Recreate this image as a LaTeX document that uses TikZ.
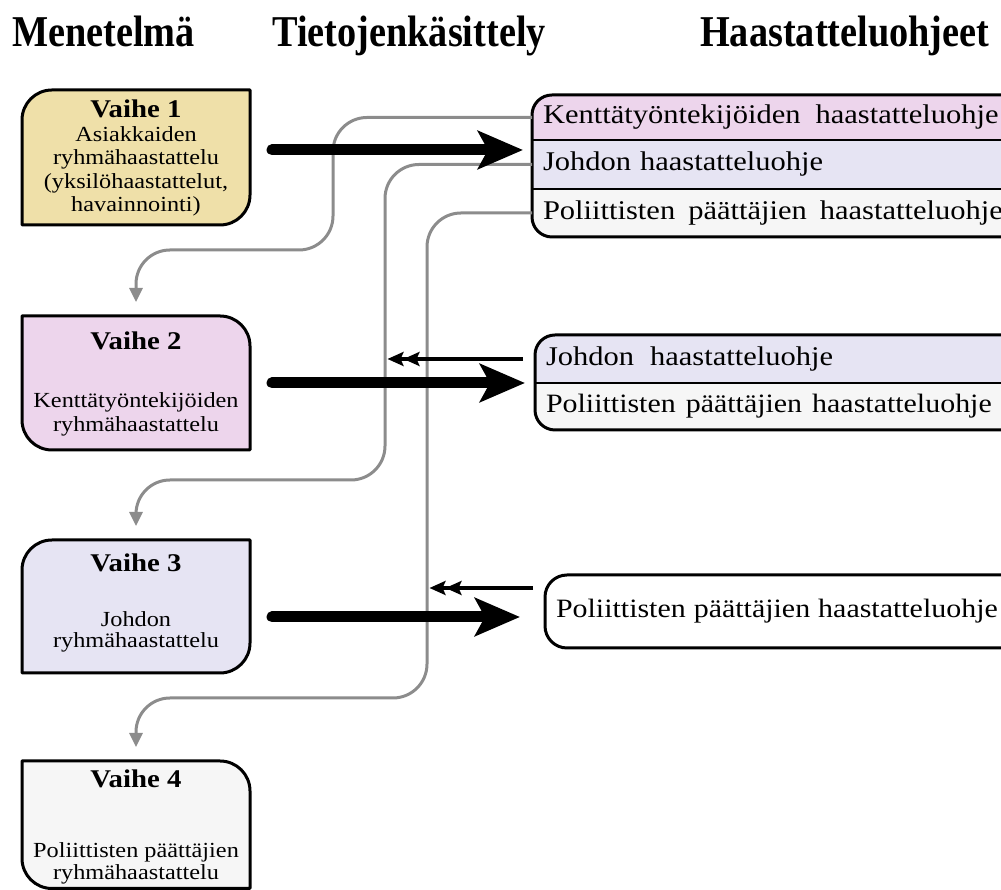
\documentclass[tikz,border=0pt]{standalone}
\usepackage{fontspec}
\setmainfont{Liberation Serif}[FakeStretch=1.13]
\newfontfamily\hdfont{Liberation Serif}[FakeStretch=0.87]
\usetikzlibrary{arrows.meta,calc}
\definecolor{cA}{HTML}{EFE0A9}
\definecolor{cB}{HTML}{EDD5EC}
\definecolor{cC}{HTML}{E6E4F3}
\definecolor{cD}{HTML}{F6F6F6}
\definecolor{gline}{HTML}{8C8C8C}
\newcommand\phtitle{\fontsize{25.5}{23.5}\selectfont\bfseries}
\begin{document}
\begin{tikzpicture}[x=1pt,y=1pt,
 heading/.style={font=\hdfont\bfseries\fontsize{44}{48}\selectfont, anchor=base west, inner sep=0},
 phase/.style={minimum width=228pt, minimum height=#1, inner sep=0, outer sep=0},
 ptext/.style={anchor=north, align=center, inner sep=0, font=\fontsize{21.5}{23.5}\selectfont},
 pbox/.style={line width=3pt, line join=round},
 rowbox/.style={anchor=north west, minimum width=508pt, minimum height=#1, text width=486pt, inner xsep=11pt, inner ysep=0pt, align=left, outer sep=0pt, font=\fontsize{27}{28}\selectfont},
 divider/.style={line width=2pt},
 gconn/.style={draw=gline, line width=3pt, rounded corners=34pt, -{Triangle[length=14pt,width=13pt]}, shorten >=14pt},
 bigarrow/.style={line width=11pt, line cap=round, -{Stealth[length=45pt,width=38pt,inset=10pt]}},
 backarrow/.style={line width=3.5pt, -{Stealth[length=16pt,width=14pt,inset=3pt]Stealth[length=16pt,width=14pt,inset=3pt]}},
]
\useasboundingbox (0,0) rectangle (1001,890);

% headings
\node[heading] (h1) at (12,843) {Menetelmä};
\node[heading] (h2) at (272,843) {Tietojenkäsittely};
\node[heading] (h3) at (700,843) {Haastatteluohjeet};

% left phase boxes
\node[phase=135pt] (v1) at (136,732.5) {};
\draw[pbox, fill=cA] ([yshift=-30pt]v1.north west) arc[start angle=180,end angle=90,radius=30] -- (v1.north east) -- ([yshift=30pt]v1.south east) arc[start angle=0,end angle=-90,radius=30] -- (v1.south west) -- cycle;
\node[ptext] (v1t) at (136,790) {{\phtitle Vaihe 1}\\Asiakkaiden\\ryhmähaastattelu\\(yksilöhaastattelut,\\havainnointi)};

\node[phase=134pt] (v2) at (136,507) {};
\draw[pbox, fill=cB] (v2.north west) -- ([xshift=-30pt]v2.north east) arc[start angle=90,end angle=0,radius=30] -- (v2.south east) -- ([xshift=30pt]v2.south west) arc[start angle=270,end angle=180,radius=30] -- cycle;
\node[ptext] (v2t) at (136,558) {{\phtitle Vaihe 2}\\[34.5pt]Kenttätyöntekijöiden\\ryhmähaastattelu};

\node[phase=133pt] (v3) at (136,283.5) {};
\draw[pbox, fill=cC] ([yshift=-30pt]v3.north west) arc[start angle=180,end angle=90,radius=30] -- (v3.north east) -- ([yshift=30pt]v3.south east) arc[start angle=0,end angle=-90,radius=30] -- (v3.south west) -- cycle;
\node[ptext] (v3t) at (136,336) {{\phtitle Vaihe 3}\\[31.5pt]Johdon\\[-2.5pt]ryhmähaastattelu};

\node[phase=127.5pt] (v4) at (136,65.25) {};
\draw[pbox, fill=cD] (v4.north west) -- ([xshift=-30pt]v4.north east) arc[start angle=90,end angle=0,radius=30] -- (v4.south east) -- ([xshift=30pt]v4.south west) arc[start angle=270,end angle=180,radius=30] -- cycle;
\node[ptext] (v4t) at (136,120) {{\phtitle Vaihe 4}\\[46.5pt]Poliittisten päättäjien\\[-1.5pt]ryhmähaastattelu};

% right box 1
\begin{scope}
\clip (1040,795) -- (552,795) arc[start angle=90,end angle=180,radius=20] -- (532,673) arc[start angle=180,end angle=270,radius=20] -- (1040,653) -- cycle;
\node[rowbox=45pt, fill=cB] (r1a) at (532,795) {Kenttätyöntekijöiden\hspace{15pt}haastatteluohje};
\node[rowbox=49pt, fill=cC] (r1b) at (r1a.south west) {Johdon haastatteluohje};
\node[rowbox=48pt, fill=cD] (r1c) at (r1b.south west) {Poliittisten\hspace{13pt}päättäjien\hspace{13pt}haastatteluohje};
\end{scope}
\draw[divider] (r1a.south west) -- (r1a.south east);
\draw[divider] (r1b.south west) -- (r1b.south east);
\draw[pbox] (r1a.north east) -- ([xshift=20pt]r1a.north west) arc[start angle=90,end angle=180,radius=20] -- ([yshift=20pt]r1c.south west) arc[start angle=180,end angle=270,radius=20] -- (r1c.south east);

% right box 2
\begin{scope}
\clip (1040,555) -- (555,555) arc[start angle=90,end angle=180,radius=20] -- (535,480) arc[start angle=180,end angle=270,radius=20] -- (1040,460) -- cycle;
\node[rowbox=48pt, fill=cC] (r2a) at (535,555) {Johdon\hspace{16pt}haastatteluohje};
\node[rowbox=47pt, fill=cD, inner xsep=10pt, font=\fontsize{26.5}{28}\selectfont] (r2b) at (r2a.south west) {Poliittisten\hspace{10pt}päättäjien\hspace{10pt}haastatteluohje};
\end{scope}
\draw[divider] (r2a.south west) -- (r2a.south east);
\draw[pbox] (r2a.north east) -- ([xshift=20pt]r2a.north west) arc[start angle=90,end angle=180,radius=20] -- ([yshift=20pt]r2b.south west) arc[start angle=180,end angle=270,radius=20] -- (r2b.south east);

% right box 3
\begin{scope}
\clip (1040,315) -- (567,315) arc[start angle=90,end angle=180,radius=22] -- (545,264) arc[start angle=180,end angle=270,radius=22] -- (1040,242) -- cycle;
\node[rowbox=73pt, fill=white, inner xsep=7pt, font=\fontsize{26.5}{28}\selectfont] (r3) at (545,315) {Poliittisten\hspace{8pt}päättäjien\hspace{8pt}haastatteluohje};
\end{scope}
\draw[pbox] (r3.north east) -- ([xshift=22pt]r3.north west) arc[start angle=90,end angle=180,radius=22] -- ([yshift=22pt]r3.south west) arc[start angle=180,end angle=270,radius=22] -- (r3.south east);

% gray connectors
\coordinate (c1v) at (333,640);
\coordinate (c2v) at (385,410);
\coordinate (c3v) at (427,192);
\draw[gconn] (r1a.west) -| (c1v) -| (v2.north);
\draw[gconn] (r1b.west) -| (c2v) -| (v3.north);
\draw[gconn] (r1c.west) -| (c3v) -| (v4.north);

% thick arrows
\draw[bigarrow] ($(v1.east)+(22,7.5)$) coordinate (t1) -- ([xshift=-9pt]t1 -| r1b.west);
\draw[bigarrow] ($(v2.east)+(22,0)$) coordinate (t2) -- ([xshift=-10pt]t2 -| r2a.west);
\draw[bigarrow] ($(v3.east)+(22,-10.5)$) coordinate (t3) -- ([xshift=-25pt]t3 -| r3.west);

% back arrows
\draw[backarrow] ([xshift=-12pt]r2a.west) coordinate (b2) -- ([xshift=2.5pt]b2 -| c2v);
\draw[backarrow] ($(r3.north west)+(-12,-13)$) coordinate (b3) -- ([xshift=2.5pt]b3 -| c3v);
\end{tikzpicture}
\end{document}
